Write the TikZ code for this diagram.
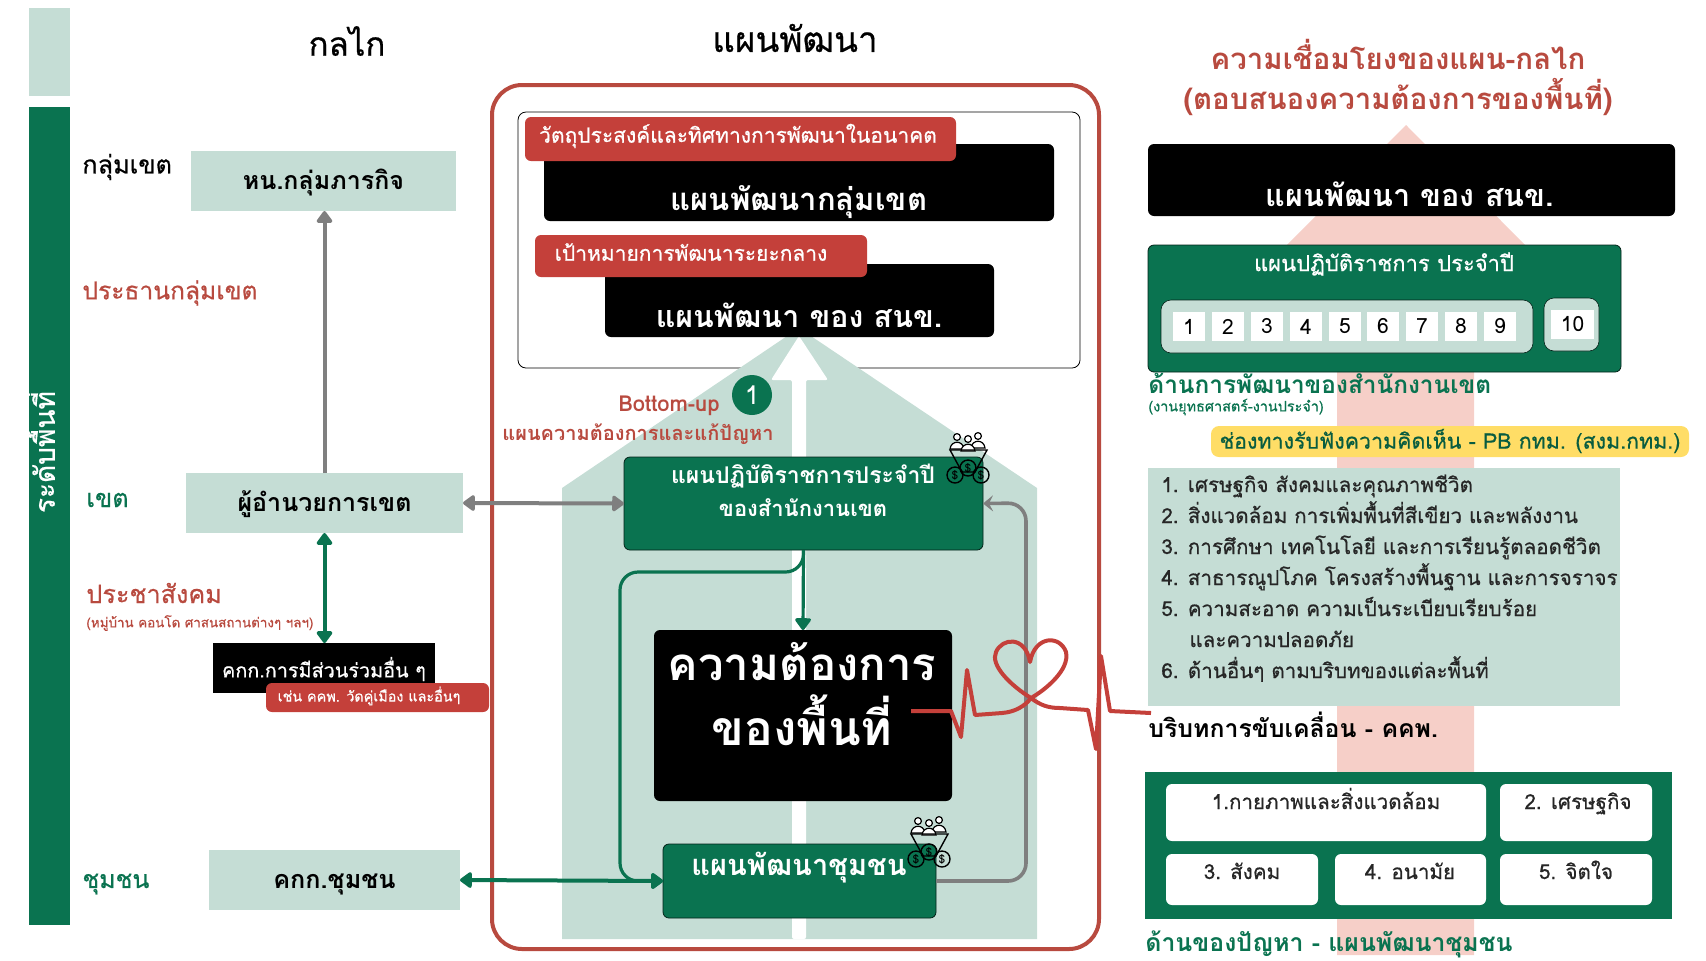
\documentclass[tikz,border=0pt]{standalone}
\usepackage{fontspec}
\setmainfont[Script=Thai]{Loma}
\newfontfamily\med[Script=Thai,FakeBold=0.6]{Loma}
\usetikzlibrary{arrows.meta}
\definecolor{gg}{HTML}{0A7350}
\definecolor{lg}{HTML}{C5DDD5}
\definecolor{rr}{HTML}{C4403A}
\definecolor{rt}{HTML}{B84A3F}
\definecolor{yy}{HTML}{FFDD66}
\definecolor{pk}{HTML}{F6CFC8}
\definecolor{gy}{HTML}{7F7F7F}
\newcommand\fs[1]{\fontsize{#1}{#1}\selectfont}
\newcommand\nudge[2]{\smash{\raisebox{-#1}{#2}}}
\newcommand\bx[7]{\pgfmathsetmacro\bw{(#5-#3)*0.5}\pgfmathsetmacro\bh{(#6-#4)*0.5}%
 \node[#2,minimum width=\bw pt,minimum height=\bh pt,inner sep=0pt,outer sep=0pt] (#1) at ({(#3+#5)/2},{(#4+#6)/2}) {#7};}
\tikzset{
 lightbox/.style={fill=lg,font=\fs{12.5}\bfseries,text=black},
 blackbox/.style={fill=black,rounded corners=3pt},
 redbox/.style={fill=rr,rounded corners=3pt},
 redtext/.style={text=white,font=\fs{10.5}\med},
 greenbox/.style={fill=gg,draw=black!70!gg,line width=.4pt,rounded corners=3pt},
 whitebox/.style={fill=white,rounded corners=3pt},
 whitetext/.style={anchor=base,text=black!85,font=\fs{10.3}\med},
 numbox/.style={fill=white,font=\fs{10.5},text=black},
 head/.style={font=\fs{17.5}\med,text=black},
 lvl/.style={anchor=west,inner sep=0pt,font=\fs{12.6}\med},
 listline/.style={anchor=base west,inner sep=0pt,text=black!85,font=\fs{10.3}\med},
 conn/.style={line width=2pt,rounded corners=9pt},
 gtip/.style={-{Triangle[width=9pt,length=6.5pt,round]}},
 gdbl/.style={{Triangle[width=9pt,length=6.5pt,round]}-{Triangle[width=9pt,length=6.5pt,round]}},
 funnelicon/.pic={
  \foreach \hx/\hy in {8/5,29/4,19/7}{
   \draw[line width=.6pt,fill=white] (\hx,\hy) circle (3.4);
   \draw[line width=.6pt,fill=white] (\hx-7,\hy+12) .. controls (\hx-6,\hy+3) and (\hx+6,\hy+3) .. (\hx+7,\hy+12) -- cycle;}
  \draw[line width=.7pt,fill=none] (1,18) -- (38,18) -- (26,40) -- (13,40) -- cycle;
  \foreach \cx/\cy in {6/43,32/43,19/36}{
   \node[circle,draw=black,line width=.7pt,fill=none,minimum size=8pt,inner sep=0pt,font=\fs{6}] (coin\cx) at (\cx,\cy) {\$};}
 }
}
\begin{document}
\begin{tikzpicture}[x=0.5pt,y=-0.5pt]
\useasboundingbox (0,0) rectangle (1706,960);
% left bars
\bx{bartop}{fill=lg}{29}{8}{70}{96}{}
\bx{barmain}{fill=gg}{29}{107}{70}{925}{}
\node[rotate=90,text=white,font=\fs{14}\med] (barlabel) at (40,452) {ระดับพื้นที่};
% headers
\node[head,font=\fs{16.5}\med] (h1) at (347,41) {กลไก};
\node[head] (h2) at (795,38) {แผนพัฒนา};
% frame
\bx{frame}{draw=rt,line width=2pt,rounded corners=15pt}{492}{85}{1099}{949}{}
\bx{upper}{draw=black,fill=white,line width=.4pt,rounded corners=4pt}{518}{112}{1080}{368}{}
% house
\fill[lg] (562,488) -- (799,328) -- (1037,488) -- (1037,939) -- (562,939) -- cycle;
\fill[white,rounded corners=1pt] (792,939) -- (792,380) -- (771,380) -- (799,336) -- (828,380) -- (806,380) -- (806,939) -- cycle;
% upper boxes
\bx{goalb}{blackbox}{544}{144}{1054}{221}{}
\bx{goal}{redbox}{525}{117}{956}{161}{}
\node[redtext] (goalt0) at (738,136) {วัตถุประสงค์และทิศทางการพัฒนาในอนาคต};
\node[text=white,font=\fs{15.5}\bfseries] (goalt) at (799,202) {แผนพัฒนากลุ่มเขต};
\bx{midb}{blackbox}{605}{264}{994}{337}{}
\bx{mid}{redbox}{535}{235}{867}{277}{}
\node[redtext] (midt0) at (691,252) {เป้าหมายการพัฒนาระยะกลาง};
\node[text=white,font=\fs{15.2}\bfseries] (midt) at (799,315) {แผนพัฒนา ของ สนข.};
% bottom-up
\node[text=rt,font=\fs{11}\bfseries] (bu) at (669,406) {Bottom-up};
\node[circle,fill=gg,text=white,minimum size=20pt,inner sep=0pt,font=\fs{13}] (one) at (752,395) {1};
\node[text=rt,font=\fs{10}\bfseries] (bu2) at (638,434) {แผนความต้องการและแก้ปัญหา};
% central boxes
\bx{plan}{greenbox}{624}{457}{983}{550}{}
\node[text=white,font=\fs{11.5}\bfseries] (plan1t) at (803,476) {แผนปฏิบัติราชการประจำปี};
\node[text=white,font=\fs{11}\bfseries] (plan2t) at (803,508) {ของสำนักงานเขต};
\bx{need}{blackbox}{654}{630}{952}{801}{}
\node[text=white,font=\fs{22.8}\bfseries] (need1) at (802,662) {ความต้องการ};
\node[text=white,font=\fs{24}\bfseries] (need2) at (802,720) {ของพื้นที่};
\bx{comm}{greenbox}{663}{844}{936}{918}{}
\node[text=white,font=\fs{14.5}\bfseries] (commt) at (799,868) {แผนพัฒนาชุมชน};
\pic at (949,432) {funnelicon};
\pic at (910,816) {funnelicon};
% left column
\node[lvl,text=black] (l1) at (82,167) {กลุ่มเขต};
\node[lvl,text=rt,font=\fs{12.3}\med] (l2) at (82,293) {ประธานกลุ่มเขต};
\bx{hn}{lightbox}{191}{151}{456}{211}{\nudge{4.2pt}{หน.กลุ่มภารกิจ}}
\node[lvl,text=gg] (l3) at (86,500) {เขต};
\bx{dir}{lightbox}{186}{473}{463}{533}{\nudge{4.2pt}{ผู้อำนวยการเขต}}
\node[lvl,text=rt] (l4) at (86,593) {ประชาสังคม};
\node[lvl,text=rt,font=\fs{6.7}\med] (l4b) at (86,623) {(หมู่บ้าน คอนโด ศาสนสถานต่างๆ ฯลฯ)};
\bx{kkb}{fill=black}{213}{643}{435}{693}{}
\node[text=white,font=\fs{9.9}\med] (kkt) at (324,669) {คกก.การมีส่วนร่วมอื่น ๆ};
\bx{kkr}{redbox}{266}{683}{489}{712}{}
\node[text=white,font=\fs{7.2}\med] (kkrt) at (369,696) {เช่น คคพ. วัดคู่เมือง และอื่นๆ};
\node[lvl,text=gg,font=\fs{12.4}\med] (l5) at (82,884) {ชุมชน};
\bx{kc}{lightbox,font=\fs{12.6}\bfseries}{209}{850}{460}{910}{\nudge{4.4pt}{คกก.ชุมชน}}
% connectors
\coordinate (bend1) at (620,572);
\coordinate (bend2) at (1026,503);
\draw[conn,gy,gtip] (dir.north) -- (dir.north |- hn.south);
\draw[conn,gy,gdbl] (dir.east) -- (plan.west);
\draw[conn,gg,gdbl] (dir.south) -- (dir.south |- kkb.north);
\draw[conn,gg,gdbl] (kc.east) -- (comm.west);
\draw[gg,line width=1.6pt,gtip] (plan.south) -- (need.north);
\draw[conn,gg,line width=1.6pt,gtip] (plan.south) -- (plan.south |- bend1) -- (bend1) -- (bend1 |- comm.west) -- (comm.west);
\draw[conn,gy,line width=1.8pt,-{Stealth[width=8pt,length=5pt,inset=2pt]}] (comm.east) -- (bend2 |- comm.east) -- (bend2) -- (plan.east);
% heartbeat
\draw[rr,line width=2pt,line join=round] (911,711) -- (951,711) -- (961,737) -- (967,670) -- (975,715) -- (1002,713) .. controls (1015,712) and (1025,706) .. (1031,698) .. controls (1010,685) and (990,665) .. (996,652) .. controls (1002,638) and (1025,635) .. (1030,662) .. controls (1035,635) and (1060,635) .. (1066,652) .. controls (1070,670) and (1045,690) .. (1031,698) .. controls (1040,705) and (1048,708) .. (1060,708) -- (1088,710) -- (1096,749) -- (1101,656) -- (1110,711) -- (1151,713);
% right column
\fill[pk] (1406,125) -- (1530,250) -- (1474,250) -- (1474,955) -- (1337,955) -- (1337,250) -- (1282,250) -- cycle;
\node[text=rt,font=\fs{14.7}\bfseries] (rt1) at (1398,54) {ความเชื่อมโยงของแผน-กลไก};
\node[text=rt,font=\fs{14.7}\bfseries] (rt2) at (1398,97) {(ตอบสนองความต้องการของพื้นที่)};
\bx{rb}{blackbox}{1148}{144}{1675}{216}{}
\node[text=white,font=\fs{15.3}\bfseries] (rbt) at (1410,194) {แผนพัฒนา ของ สนข.};
\bx{ra}{greenbox}{1148}{245}{1621}{372}{}
\node[text=white,font=\fs{11}\med] (rat) at (1384,264) {แผนปฏิบัติราชการ ประจำปี};
\bx{p9}{fill=lg,draw=black!70!gg,line width=.3pt,rounded corners=5pt}{1161}{300}{1533}{353}{}
\bx{p10}{fill=lg,draw=black!70!gg,line width=.3pt,rounded corners=5pt}{1544}{298}{1599}{351}{}
\foreach \n/\xa in {1/1173,2/1212,3/1251,4/1290,5/1329,6/1367,7/1406,8/1445,9/1484}{
 \pgfmathsetmacro\xb{\xa+32}
 \bx{n\n}{numbox}{\xa}{312}{\xb}{341}{\n}
}
\bx{n10}{numbox}{1551}{310}{1594}{339}{10}
\node[lvl,text=gg,font=\fs{12.2}\bfseries] (r1) at (1148,383) {ด้านการพัฒนาของสำนักงานเขต};
\node[lvl,text=gg,font=\fs{7.2}\med] (r1b) at (1148,407) {(งานยุทธศาสตร์-งานประจำ)};
\bx{yel}{fill=yy,rounded corners=4pt}{1211}{426}{1689}{457}{}
\node[text=gg!80!black,font=\fs{10.7}\med] (yelt) at (1450,441) {ช่องทางรับฟังความคิดเห็น - PB กทม. (สงม.กทม.)};
\bx{lst}{fill=lg}{1148}{468}{1620}{706}{}
\foreach \k/\yy/\xx/\t in {
 a/492/1161/{1. เศรษฐกิจ สังคมและคุณภาพชีวิต},
 b/523/1161/{2. สิ่งแวดล้อม การเพิ่มพื้นที่สีเขียว และพลังงาน},
 c/554/1161/{3. การศึกษา เทคโนโลยี และการเรียนรู้ตลอดชีวิต},
 d/585/1161/{4. สาธารณูปโภค โครงสร้างพื้นฐาน และการจราจร},
 e/616/1161/{5. ความสะอาด ความเป็นระเบียบเรียบร้อย},
 f/647/1189/{และความปลอดภัย},
 g/678/1161/{6. ด้านอื่นๆ ตามบริบทของแต่ละพื้นที่}}{
 \node[listline] (li\k) at (\xx,\yy) {\t};
}
\node[lvl,text=black,font=\fs{12.4}\bfseries] (r2) at (1148,725) {บริบทการขับเคลื่อน - คคพ.};
\bx{dark}{fill=gg}{1145}{772}{1672}{919}{}
\bx{w1}{whitebox}{1166}{784}{1486}{841}{}
\node[whitetext] (w1t) at (1326,809) {1.กายภาพและสิ่งแวดล้อม};
\bx{w2}{whitebox}{1500}{784}{1652}{841}{}
\node[whitetext] (w2t) at (1578,809) {2. เศรษฐกิจ};
\bx{w3}{whitebox}{1166}{854}{1318}{905}{}
\node[whitetext] (w3t) at (1242,879) {3. สังคม};
\bx{w4}{whitebox}{1335}{854}{1486}{905}{}
\node[whitetext] (w4t) at (1410,879) {4. อนามัย};
\bx{w5}{whitebox}{1500}{854}{1652}{905}{}
\node[whitetext] (w5t) at (1576,879) {5. จิตใจ};
\node[lvl,text=gg,font=\fs{12.4}\bfseries] (r3) at (1145,944) {ด้านของปัญหา - แผนพัฒนาชุมชน};
\end{tikzpicture}
\end{document}
